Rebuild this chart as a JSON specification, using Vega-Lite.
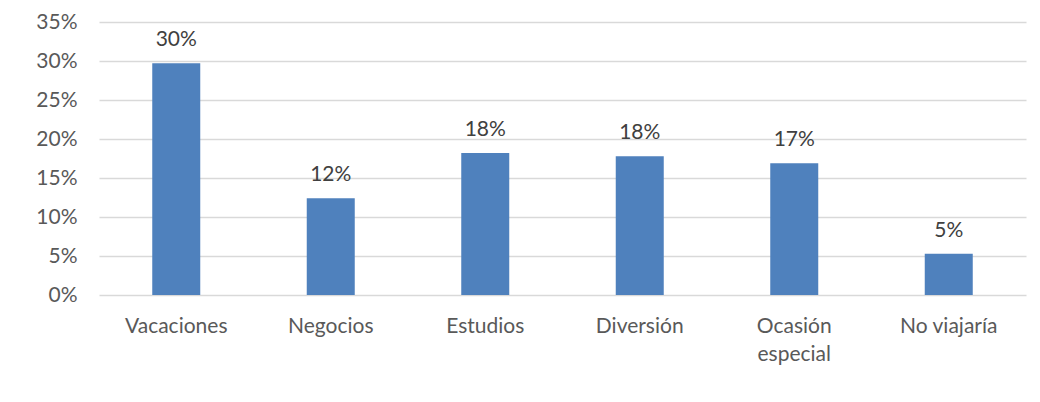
{
  "$schema": "https://vega.github.io/schema/vega-lite/v6.json",
  "width": 927,
  "height": 273,
  "autosize": {"type": "none"},
  "padding": {"left": 99, "top": 22, "right": 14, "bottom": 107},
  "background": "white",
  "config": {
    "view": {"stroke": null},
    "font": "Lato",
    "axis": {"labelFont": "Lato", "labelColor": "#595959", "labelFontSize": 21}
  },
  "data": {
    "values": [
      {"motivo": "Vacaciones", "valor": 0.297},
      {"motivo": "Negocios", "valor": 0.124},
      {"motivo": "Estudios", "valor": 0.182},
      {"motivo": "Diversión", "valor": 0.178},
      {"motivo": "Ocasión especial", "valor": 0.169},
      {"motivo": "No viajaría", "valor": 0.053}
    ]
  },
  "encoding": {
    "x": {
      "field": "motivo",
      "type": "nominal",
      "sort": null,
      "scale": {"paddingInner": 0, "paddingOuter": 0},
      "axis": {
        "title": null,
        "labelAngle": 0,
        "domain": false,
        "ticks": false,
        "labelPadding": 20,
        "labelBaseline": "top",
        "labelLineHeight": 28,
        "labelExpr": "datum.label == 'Ocasión especial' ? ['Ocasión', 'especial'] : datum.label"
      }
    },
    "y": {
      "field": "valor",
      "type": "quantitative",
      "scale": {"domain": [0, 0.35], "nice": false},
      "axis": {
        "title": null,
        "format": ".0%",
        "values": [0, 0.05, 0.1, 0.15, 0.2, 0.25, 0.3, 0.35],
        "domain": false,
        "ticks": false,
        "labelPadding": 22,
        "gridColor": "#D9D9D9",
        "gridWidth": 1.5
      }
    }
  },
  "layer": [
    {"mark": {"type": "bar", "size": 48, "color": "#4F81BD"}},
    {
      "mark": {"type": "text", "baseline": "alphabetic", "dy": -17, "fontSize": 21, "color": "#404040", "font": "Lato"},
      "encoding": {"text": {"field": "valor", "type": "quantitative", "format": ".0%"}}
    }
  ]
}
